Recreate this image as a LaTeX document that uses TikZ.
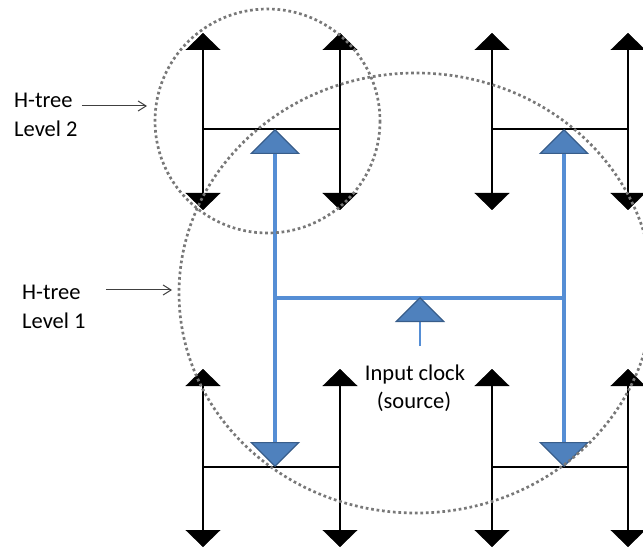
\documentclass[tikz,border=0pt]{standalone}
\usepackage{fontspec}
\setmainfont{Carlito}
\usetikzlibrary{arrows.meta}
\definecolor{hblue}{RGB}{85,142,213}
\definecolor{tfill}{RGB}{79,129,189}
\definecolor{tedge}{RGB}{56,93,138}
\definecolor{dotgray}{RGB}{120,120,120}
\definecolor{lblgray}{RGB}{64,64,64}
\tikzset{
  ktip/.tip={Triangle[width=35pt,length=17pt,line width=0.4pt]},
  btip/.tip={Triangle[width=50pt,length=25pt,fill=tfill,color=tedge,line width=1.2pt]},
  blkline/.style={line width=2.7pt,black},
  blkbar/.style={line width=2pt,black},
  blueline/.style={line width=4.5pt,hblue},
  bluethin/.style={line width=1.5pt,hblue},
  dotcirc/.style={draw=dotgray,line width=2.7pt,dash pattern=on 2.7pt off 2.8pt},
  lbl/.style={font=\fontsize{22.5}{27}\selectfont,inner sep=0pt,text=black},
  larrow/.style={draw=lblgray,line width=1pt,-{Straight Barb[length=8pt,width=10pt]}}
}
\begin{document}
\begin{tikzpicture}[x=1pt,y=-1pt]
\useasboundingbox (0,0) rectangle (643,548);
% black H-trees (level 2)
\foreach \n/\xa/\xb/\yt/\yb/\ym in {tl/203/340/33/210/129, tr/492/628/33/210/129, bl/203/340/369/547/467, br/492/628/369/547/467}{
  \coordinate (\n-lt) at (\xa,\yt);
  \coordinate (\n-lb) at (\xa,\yb);
  \coordinate (\n-rt) at (\xb,\yt);
  \coordinate (\n-rb) at (\xb,\yb);
  \coordinate (\n-ml) at (\xa,\ym);
  \coordinate (\n-mr) at (\xb,\ym);
  \draw[blkline,ktip-ktip] (\n-lt) -- (\n-lb);
  \draw[blkline,ktip-ktip] (\n-rt) -- (\n-rb);
  \draw[blkbar] (\n-ml) -- (\n-mr);
}
% blue H-tree (level 1)
\coordinate (bTL) at (275,129);
\coordinate (bBL) at (275,467);
\coordinate (bTR) at (564,129);
\coordinate (bBR) at (564,467);
\coordinate (bML) at (275,298);
\coordinate (bMR) at (564,298);
\coordinate (src) at (420,346);
\coordinate (srcTip) at (420,297);
\draw[blueline] (bML) -- (bMR);
\draw[blueline,btip-btip] (bTL) -- (bBL);
\draw[blueline,btip-btip] (bTR) -- (bBR);
\draw[bluethin,-btip] (src) -- (srcTip);
% dotted circles
\draw[dotcirc] (267.5,121) ellipse [x radius=112.5, y radius=112];
\draw[dotcirc] (416,293) ellipse [x radius=237, y radius=220];
% labels
\node[lbl,anchor=base west] (l2a) at (14,108) {H-tree};
\node[lbl,anchor=base west] (l2b) at (14,137) {Level 2};
\node[lbl,anchor=base west] (l1a) at (22,300) {H-tree};
\node[lbl,anchor=base west] (l1b) at (22,329) {Level 1};
\node[lbl,anchor=base] (clka) at (415,380) {Input clock};
\node[lbl,anchor=base] (clkb) at (414,408) {(source)};
\coordinate (l2tip) at (147,106);
\coordinate (l1tip) at (172,290);
\draw[larrow] (l2a.east |- l2tip) ++(9,0) -- (l2tip);
\draw[larrow] (l1a.east |- l1tip) ++(25,0) -- (l1tip);
\end{tikzpicture}
\end{document}
